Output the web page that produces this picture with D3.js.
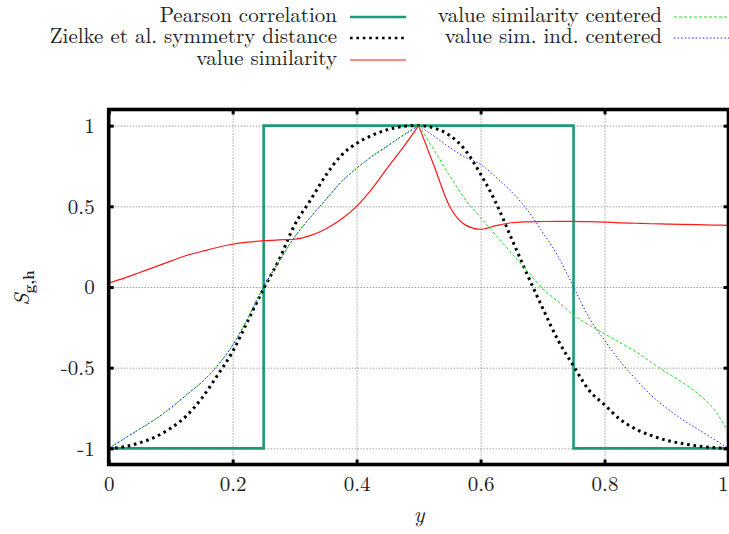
<!DOCTYPE html>
<html><head><meta charset="utf-8">
<script src="https://cdn.jsdelivr.net/npm/d3@7"></script>
<style>
html,body{margin:0;padding:0;background:#fff;}
</style></head>
<body>
<svg id="chart" width="729" height="534"></svg>
<script>
// ---- data ----
const xs = [0,0.025,0.05,0.075,0.1,0.125,0.15,0.175,0.2,0.225,0.25,0.275,0.3,0.325,0.35,0.375,0.4,0.425,0.45,0.475,0.5,
            0.525,0.55,0.575,0.6,0.625,0.65,0.675,0.7,0.725,0.75,0.775,0.8,0.825,0.85,0.875,0.9,0.925,0.95,0.975,1];
const pearsonX = [0,0.25,0.25,0.75,0.75,1];
const pearsonY = [-1,-1,1,1,-1,-1];
const zielke = [-1,-0.99,-0.965,-0.93,-0.875,-0.8,-0.69,-0.55,-0.4,-0.205,-0.01,0.17,0.385,0.535,0.69,0.815,0.89,0.94,0.975,0.995,1,
                0.985,0.94,0.85,0.7,0.52,0.3,0.08,-0.13,-0.33,-0.49,-0.64,-0.73,-0.82,-0.88,-0.92,-0.95,-0.97,-0.985,-0.995,-1];
const valueSim = [0.025,0.055,0.09,0.125,0.16,0.195,0.22,0.245,0.265,0.278,0.287,0.292,0.296,0.318,0.36,0.42,0.5,0.61,0.74,0.865,1,
                  0.75,0.5,0.385,0.358,0.38,0.398,0.404,0.406,0.407,0.407,0.405,0.402,0.398,0.395,0.392,0.39,0.388,0.386,0.384,0.382];
const valueSimCentered = [-1,-0.94,-0.88,-0.82,-0.75,-0.67,-0.59,-0.49,-0.36,-0.19,0,0.16,0.31,0.43,0.54,0.65,0.736,0.81,0.875,0.94,1,
                          0.85,0.69,0.545,0.43,0.32,0.21,0.1,-0.01,-0.09,-0.175,-0.235,-0.29,-0.345,-0.4,-0.465,-0.53,-0.59,-0.66,-0.75,-0.9];
const valueSimIndCentered = [-1,-0.94,-0.88,-0.82,-0.75,-0.67,-0.59,-0.49,-0.36,-0.19,0,0.16,0.31,0.43,0.54,0.65,0.736,0.81,0.875,0.94,1,
                             0.935,0.865,0.805,0.76,0.68,0.59,0.48,0.34,0.19,0,-0.19,-0.33,-0.46,-0.57,-0.67,-0.75,-0.82,-0.88,-0.94,-1];
const xTicks = [0,0.2,0.4,0.6,0.8,1];
const xTickLabels = ["0","0.2","0.4","0.6","0.8","1"];
const yTicks = [-1,-0.5,0,0.5,1];
const yTickLabels = ["-1","-0.5","0","0.5","1"];
const seriesNames = ["Pearson correlation","Zielke et al. symmetry distance","value similarity","value similarity centered","value sim. ind. centered"];

const FONT = "\"Latin Modern Roman\", \"Liberation Serif\", serif";
const FS = 21;

// ---- layout ----
const svg = d3.select("#chart");
const x = d3.scaleLinear().domain([0,1]).range([108.7,728.5]);
const y = d3.scaleLinear().domain([-1.1,1.1]).range([464.5,109.5]);
const X0 = x.range()[0], X1 = x.range()[1], Y0 = y.range()[1], Y1 = y.range()[0];
const W = X1 - X0, H = Y1 - Y0;

// grid
const gridY = svg.append("g").attr("transform",`translate(${X0},0)`)
  .call(d3.axisLeft(y).tickValues(yTicks).tickSize(-W).tickFormat(""));
const gridX = svg.append("g").attr("transform",`translate(0,${Y1})`)
  .call(d3.axisBottom(x).tickValues(xTicks.slice(1,-1)).tickSize(-H).tickFormat(""));
[gridX,gridY].forEach(g=>{
  g.select(".domain").remove();
  g.selectAll("line").attr("stroke","#777").attr("stroke-width",1).attr("stroke-dasharray","1,2");
});

// series
const ptsOf = (vals)=> xs.map((xv,i)=>[xv,vals[i]]);
const lineSmooth = d3.line().x(d=>x(d[0])).y(d=>y(d[1])).curve(d3.curveMonotoneX);
const lineLin = d3.line().x(d=>x(d[0])).y(d=>y(d[1]));
const plot = svg.append("g");
function drawSplit(vals, style){
  const p = ptsOf(vals);
  [p.filter(d=>d[0]<=0.5), p.filter(d=>d[0]>=0.5)].forEach(seg=>{
    plot.append("path").attr("d",lineSmooth(seg)).attr("fill","none")
      .attr("stroke",style.c).attr("stroke-width",style.w).attr("stroke-dasharray",style.d||null);
  });
}
const styles = [
  {c:"#1a9a76", w:2.6},
  {c:"#000", w:3, d:"2.6,3.8"},
  {c:"#ff1a1a", w:1.2},
  {c:"#22e022", w:1, d:"3,2"},
  {c:"#1a1aff", w:1, d:"1.4,2.2"}
];
plot.append("path").attr("d",lineLin(pearsonX.map((v,i)=>[v,pearsonY[i]])))
  .attr("fill","none").attr("stroke",styles[0].c).attr("stroke-width",styles[0].w);
plot.append("path").attr("d",lineSmooth(ptsOf(zielke))).attr("fill","none")
  .attr("stroke",styles[1].c).attr("stroke-width",styles[1].w).attr("stroke-dasharray",styles[1].d);
drawSplit(valueSim, styles[2]);
drawSplit(valueSimCentered, styles[3]);
drawSplit(valueSimIndCentered, styles[4]);

// inward ticks on all sides
const tk = [
  svg.append("g").attr("transform",`translate(0,${Y1})`).call(d3.axisBottom(x).tickValues(xTicks).tickSize(-5).tickFormat("")),
  svg.append("g").attr("transform",`translate(0,${Y0})`).call(d3.axisTop(x).tickValues(xTicks).tickSize(-5).tickFormat("")),
  svg.append("g").attr("transform",`translate(${X0},0)`).call(d3.axisLeft(y).tickValues(yTicks).tickSize(-5).tickFormat("")),
  svg.append("g").attr("transform",`translate(${X1},0)`).call(d3.axisRight(y).tickValues(yTicks).tickSize(-5).tickFormat(""))
];
tk.forEach(g=>{ g.select(".domain").remove(); g.selectAll("line").attr("stroke","#000").attr("stroke-width",3); });

// frame
svg.append("rect").attr("x",X0).attr("y",Y0).attr("width",W).attr("height",H)
  .attr("fill","none").attr("stroke","#000").attr("stroke-width",3.6);

// tick labels
const xl = svg.append("g").attr("transform",`translate(0,${Y1})`)
  .call(d3.axisBottom(x).tickValues(xTicks).tickSize(0).tickPadding(12).tickFormat((d,i)=>xTickLabels[i]));
const yl = svg.append("g").attr("transform",`translate(${X0},0)`)
  .call(d3.axisLeft(y).tickValues(yTicks).tickSize(0).tickPadding(14).tickFormat((d,i)=>yTickLabels[i]));
[xl,yl].forEach(g=>{
  g.attr("font-family",null).attr("font-size",null);
  g.select(".domain").remove();
  g.selectAll("text").style("font-family",FONT).style("font-size",FS+"px").attr("fill","#222");
});
// last x label: keep it inside the window edge
xl.selectAll("text").filter((d,i)=>i===xTicks.length-1).attr("text-anchor","end").attr("x",-0.5);

// axis titles
svg.append("text").attr("x",419).attr("y",522).attr("text-anchor","middle").style("font-family",FONT)
  .style("font-size",(FS+1)+"px").style("font-style","italic").attr("fill","#222").text("y");
const yt = svg.append("text").attr("transform","translate(29,288) rotate(-90)").attr("text-anchor","middle")
  .style("font-family",FONT).style("font-size",(FS+1)+"px").attr("fill","#222");
yt.append("tspan").style("font-style","italic").text("S");
yt.append("tspan").style("font-size","15px").style("font-weight","bold").attr("dy",4.5).text("g,h");

// legend
const legend = [
  {i:0, tx:337, sx:350, ex:406, cy:16},
  {i:1, tx:337, sx:350, ex:406, cy:37},
  {i:2, tx:337, sx:350, ex:406, cy:59},
  {i:3, tx:662, sx:674, ex:730, cy:16},
  {i:4, tx:662, sx:674, ex:730, cy:37}
];
legend.forEach(l=>{
  const s = styles[l.i];
  svg.append("text").attr("x",l.tx).attr("y",l.cy+6).attr("text-anchor","end").style("font-family",FONT)
    .style("font-size",FS+"px").attr("fill","#222").text(seriesNames[l.i]);
  svg.append("line").attr("x1",l.sx).attr("x2",l.ex).attr("y1",l.cy+1).attr("y2",l.cy+1)
    .attr("stroke",s.c).attr("stroke-width",l.i===1?2.4:s.w).attr("stroke-dasharray",s.d||null);
});
</script>
</body></html>
